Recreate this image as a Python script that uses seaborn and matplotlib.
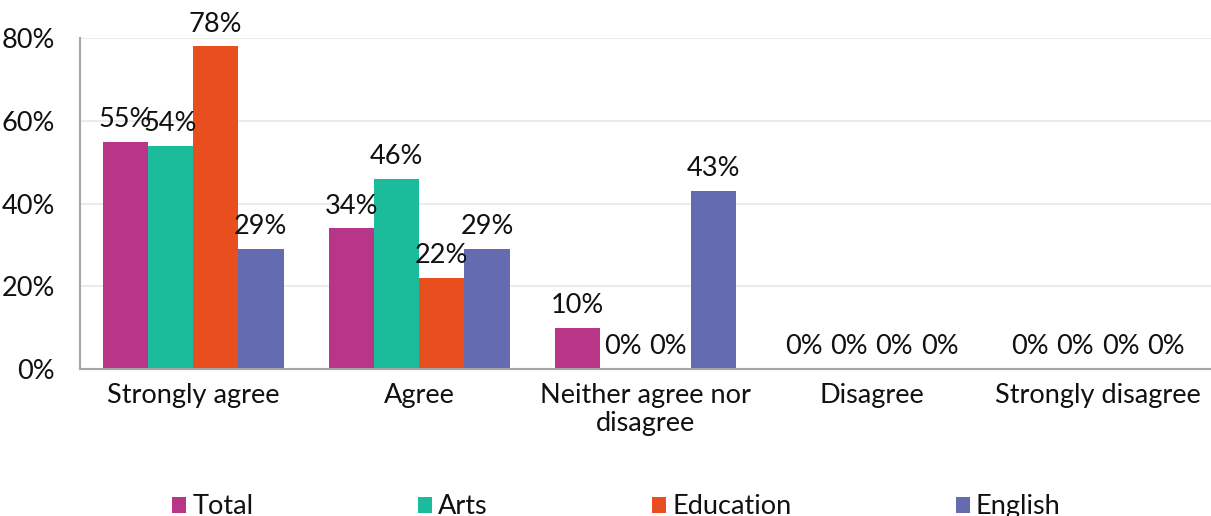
import matplotlib
matplotlib.use("Agg")
import matplotlib.pyplot as plt
import seaborn as sns
import pandas as pd

# Survey responses, percent of respondents per group
categories = ["Strongly agree", "Agree", "Neither agree nor\ndisagree", "Disagree", "Strongly disagree"]
groups = ["Total", "Arts", "Education", "English"]
total = [55, 34, 10, 0, 0]
arts = [54, 46, 0, 0, 0]
education = [78, 22, 0, 0, 0]
english = [29, 29, 43, 0, 0]
y_ticks = [0, 20, 40, 60, 80]
colors = ["#B83588", "#1ABC9C", "#E84E1E", "#656BB0"]

rows = []
for g, vals in zip(groups, [total, arts, education, english]):
    for c, v in zip(categories, vals):
        rows.append({"Response": c, "Group": g, "Percent": v})
df = pd.DataFrame(rows)

sns.set_theme(style="white")
plt.rcParams["font.family"] = ["Lato", "DejaVu Sans"]
FS = 19.5
TXT = "#111111"

fig = plt.figure(figsize=(12.11, 5.16), dpi=100)
ax = fig.add_axes([0.066, 0.285, 0.934, 0.641])

sns.barplot(data=df, x="Response", y="Percent", hue="Group", order=categories,
            hue_order=groups, palette=colors, width=0.8, saturation=1,
            edgecolor="none", linewidth=0, ax=ax, legend=True)

for cont in ax.containers:
    labels = [f"{v:.0f}%" for v in cont.datavalues]
    ax.bar_label(cont, labels=labels, padding=7, fontsize=FS, color=TXT)

ax.set_ylim(0, 80)
ax.set_yticks(y_ticks)
ax.set_yticklabels([f"{t}%" for t in y_ticks], fontsize=FS, color=TXT)
ax.tick_params(axis="x", labelsize=FS, colors=TXT, pad=10, length=0)
ax.tick_params(axis="y", length=0, pad=18)
for lbl in ax.get_xticklabels():
    lbl.set_linespacing(1.15)
ax.set_xlabel("")
ax.set_ylabel("")
ax.set_xlim(-0.5, len(categories) - 0.5)

ax.yaxis.grid(True, color="#EBEBEB", linewidth=1.5)
ax.set_axisbelow(True)
for side in ["top", "right"]:
    ax.spines[side].set_visible(False)
for side in ["left", "bottom"]:
    ax.spines[side].set_color("#A6A6A6")
    ax.spines[side].set_linewidth(1.5)

handles, labs = ax.get_legend_handles_labels()
ax.get_legend().remove()
fig.legend(handles, labs, loc="center", bbox_to_anchor=(0.509, 0.018), ncol=4,
           frameon=False, fontsize=FS, handlelength=0.52, handleheight=0.52,
           handletextpad=0.22, columnspacing=6.07, labelcolor=TXT)

fig.savefig("out.png", dpi=100)
